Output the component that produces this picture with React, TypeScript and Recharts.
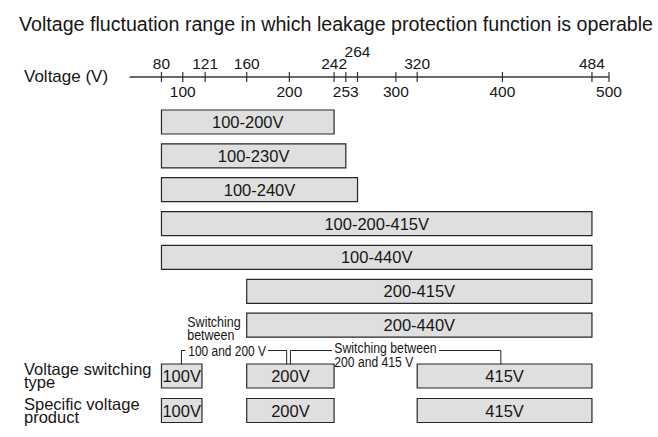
import { BarChart, Bar, XAxis, YAxis, LabelList } from 'recharts';

// operable voltage range per rated voltage (V)
const ratings = ['100-200V', '100-230V', '100-240V', '100-200-415V', '100-440V', '200-415V', '200-440V'];
const lowerLimits = [80, 80, 80, 80, 80, 160, 160];
const upperLimits = [242, 253, 264, 484, 484, 484, 484];

// bottom rows: switching type / specific voltage product
const productTypes = ['Voltage switching type', 'Specific voltage product'];
const boxNames = ['100V', '200V', '415V'];
const boxLows = [80, 160, 320];
const boxHighs = [118, 242, 484];

// axis ticks
const upperTicks = [80, 121, 160, 242, 264, 320, 484];
const lowerTicks = [100, 200, 253, 300, 400, 500];
const raisedTicks = [264];
const allTicks = [...upperTicks, ...lowerTicks].sort((a, b) => a - b);

const X_MIN = 50;
const X_MAX = 500;
const LEFT = 129.5;
const RIGHT = 49;
const W = 658;
const H = 437;
const FONT = '"Liberation Sans", Arial, Helvetica, sans-serif';
const INK = '#161616';
const BAR_FILL = '#dfdfdf';
const BAR_STROKE = '#262626';

const xs = (v: number) => LEFT + ((v - X_MIN) / (X_MAX - X_MIN)) * (W - LEFT - RIGHT);

const rangeRows = ratings.map((name, i) => ({ name, range: [lowerLimits[i], upperLimits[i]] }));
const boxRows = productTypes.map((name) => {
  const row: any = { name };
  boxNames.forEach((b, j) => {
    row[b] = [boxLows[j], boxHighs[j]];
  });
  return row;
});

function VoltTick(props: any) {
  const { x, y, payload } = props;
  const v = payload.value;
  const raised = raisedTicks.includes(v);
  const above = upperTicks.includes(v);
  const ty = raised ? y - 20 : above ? y - 8 : y + 20;
  return (
    <g>
      <line x1={x} x2={x} y1={y - 5} y2={y + 5} stroke="#333" strokeWidth={1.2} />
      <text x={x} y={ty} textAnchor="middle" fontSize={15.5} fontFamily={FONT} fill={INK}>
        {v}
      </text>
    </g>
  );
}

function CenterLabel(props: any) {
  const { x, y, width, height, value, text } = props;
  return (
    <text
      x={x + width / 2}
      y={y + height / 2 + 6}
      textAnchor="middle"
      fontSize={16.5}
      fontFamily={FONT}
      fill={INK}
    >
      {text ?? value}
    </text>
  );
}

function Annotations() {
  const lineProps = { fill: 'none', stroke: '#222', strokeWidth: 1 };
  const small = { fontSize: 14, fontFamily: FONT, fill: INK, lengthAdjust: 'spacingAndGlyphs' as const };
  return (
    <svg width={W} height={H} style={{ position: 'absolute', left: 0, top: 0, pointerEvents: 'none' }}>
      <text x={19} y={31} fontSize={19.5} fontFamily={FONT} fill={INK} textLength={634} lengthAdjust="spacingAndGlyphs">
        Voltage fluctuation range in which leakage protection function is operable
      </text>
      <text x={24} y={82} fontSize={17} fontFamily={FONT} fill={INK}>
        Voltage (V)
      </text>

      <text x={24} y={375} fontSize={16.5} fontFamily={FONT} fill={INK}>Voltage switching</text>
      <text x={24} y={388} fontSize={16.5} fontFamily={FONT} fill={INK}>type</text>
      <text x={24} y={410} fontSize={16.5} fontFamily={FONT} fill={INK}>Specific voltage</text>
      <text x={24} y={422.5} fontSize={16.5} fontFamily={FONT} fill={INK}>product</text>

      <text x={187.3} y={327.3} textLength={53.4} {...small}>Switching</text>
      <text x={187.3} y={339.5} textLength={47} {...small}>between</text>
      <text x={188.3} y={355.5} textLength={77.7} {...small}>100 and 200 V</text>
      <text x={334.3} y={352.5} textLength={102.4} {...small}>Switching between</text>
      <text x={334.3} y={366.5} textLength={79} {...small}>200 and 415 V</text>

      <path d={`M${xs(98.75)},364.5 V350.5 H185.5`} {...lineProps} />
      <path d={`M268,350.5 H${xs(197.5)} V364.5`} {...lineProps} />
      <path d={`M${xs(201)},364.5 V350.5 H332`} {...lineProps} />
      <path d={`M439,350.5 H${xs(398.5)} V364.5`} {...lineProps} />
    </svg>
  );
}

export default function App() {
  return (
    <div style={{ position: 'absolute', left: 0, top: 0, width: W, height: H, background: '#fff' }}>
      <div style={{ position: 'absolute', left: 0, top: 0 }}>
        <BarChart
          width={W}
          height={345}
          data={rangeRows}
          layout="vertical"
          margin={{ top: 47, right: RIGHT, bottom: 3, left: LEFT }}
          barSize={24}
        >
          <XAxis
            type="number"
            orientation="top"
            domain={[X_MIN, X_MAX]}
            ticks={allTicks}
            interval={0}
            height={30}
            tickSize={0}
            tickMargin={0}
            tickLine={false}
            axisLine={{ stroke: '#3a3a3a', strokeWidth: 1.4 }}
            tick={<VoltTick />}
            allowDataOverflow
          />
          <YAxis type="category" dataKey="name" hide width={0} padding={{ top: 28, bottom: 0 }} />
          <Bar dataKey="range" fill={BAR_FILL} stroke={BAR_STROKE} strokeWidth={1.2} isAnimationActive={false}>
            <LabelList dataKey="name" content={<CenterLabel />} />
          </Bar>
        </BarChart>
      </div>
      <div style={{ position: 'absolute', left: 0, top: 0 }}>
        <BarChart
          width={W}
          height={H}
          data={boxRows}
          layout="vertical"
          margin={{ top: 359, right: RIGHT, bottom: 9, left: LEFT }}
          barSize={24}
          barGap={-24}
        >
          <XAxis type="number" domain={[X_MIN, X_MAX]} hide allowDataOverflow />
          <YAxis type="category" dataKey="name" hide width={0} />
          {boxNames.map((b) => (
            <Bar
              key={b}
              dataKey={b}
              fill={BAR_FILL}
              stroke={BAR_STROKE}
              strokeWidth={1.2}
              isAnimationActive={false}
            >
              <LabelList dataKey={b} content={<CenterLabel text={b} />} />
            </Bar>
          ))}
        </BarChart>
      </div>
      <Annotations />
    </div>
  );
}
